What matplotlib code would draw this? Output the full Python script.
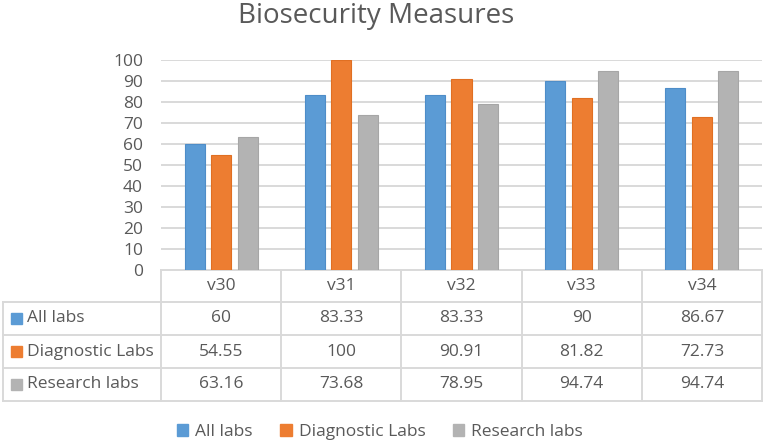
import matplotlib
matplotlib.use('Agg')
import matplotlib.pyplot as plt
from matplotlib.patches import Rectangle
import numpy as np

categories = ['v30', 'v31', 'v32', 'v33', 'v34']
series_names = ['All labs', 'Diagnostic Labs', 'Research labs']
all_labs = [60, 83.33, 83.33, 90, 86.67]
diagnostic_labs = [54.55, 100, 90.91, 81.82, 72.73]
research_labs = [63.16, 73.68, 78.95, 94.74, 94.74]
yticks = [0, 10, 20, 30, 40, 50, 60, 70, 80, 90, 100]
title = 'Biosecurity Measures'

series = [all_labs, diagnostic_labs, research_labs]
colors = ['#5B9BD5', '#ED7D31', '#B3B3B3']
edges = ['#4E8DC8', '#E06F22', '#A6A6A6']
txt = '#595959'
grid_c = '#D9D9D9'
FONT = 'Open Sans'
plt.rcParams['font.family'] = [FONT, 'DejaVu Sans']

W, H = 765, 443
fig = plt.figure(figsize=(W / 100, H / 100), dpi=100)

L, R, T, B = 161, 762, 60, 270
ax = fig.add_axes([L / W, (H - B) / H, (R - L) / W, (B - T) / H])
x = np.arange(len(categories))
bw = 0.167
offs = [-0.22, 0, 0.22]
for vals, c, e, o in zip(series, colors, edges, offs):
    ax.bar(x + o, vals, bw, color=c, edgecolor=e, linewidth=0.8, zorder=3)
ax.set_xlim(-0.5, len(categories) - 0.5)
ax.set_ylim(0, 100)
ax.set_yticks(yticks)
ax.set_yticklabels([str(v) for v in yticks])
ax.tick_params(axis='y', length=0, pad=13, labelsize=12.5, labelcolor=txt)
ax.set_xticks([])
ax.grid(axis='y', color=grid_c, linewidth=1.4, zorder=0)
for s in ax.spines.values():
    s.set_visible(False)

fig.text(376 / W, 1 - 23 / H, title, ha='center', va='baseline',
         fontsize=20, color=txt)

# data table
tax = fig.add_axes([0, 0, 1, 1], zorder=-1)
tax.set_xlim(0, W)
tax.set_ylim(H, 0)
tax.axis('off')
colw = (R - L) / len(categories)
rows_y = [270, 302, 335, 368, 401]
lw = 1.4
tax.plot([L, R], [rows_y[0], rows_y[0]], color=grid_c, lw=lw)
for yy in rows_y[1:]:
    tax.plot([3, R], [yy, yy], color=grid_c, lw=lw)
for i in range(len(categories) + 1):
    tax.plot([L + i * colw] * 2, [rows_y[0], rows_y[-1]], color=grid_c, lw=lw)
tax.plot([3, 3], [rows_y[1], rows_y[-1]], color=grid_c, lw=lw)

fs = 12.5
for i, c in enumerate(categories):
    tax.text(L + (i + 0.5) * colw, (rows_y[0] + rows_y[1]) / 2, c,
             ha='center', va='center', fontsize=fs, color=txt)
for r, (name, vals, col) in enumerate(zip(series_names, series, colors)):
    yc = (rows_y[r + 1] + rows_y[r + 2]) / 2
    tax.add_patch(Rectangle((11, yc - 5.5), 11, 11, color=col))
    tax.text(27, yc, name, ha='left', va='center', fontsize=fs, color=txt)
    for i, v in enumerate(vals):
        tax.text(L + (i + 0.5) * colw, yc, '{:g}'.format(v),
                 ha='center', va='center', fontsize=fs, color=txt)

handles = [Rectangle((0, 0), 1, 1, color=c) for c in colors]
leg = fig.legend(handles, series_names, loc='center',
                 bbox_to_anchor=(380 / W, 1 - 432 / H), ncol=3, frameon=False,
                 handlelength=0.65, handleheight=0.65, handletextpad=0.4,
                 columnspacing=1.6, fontsize=fs, labelcolor=txt)

fig.savefig('out.png', dpi=100)
